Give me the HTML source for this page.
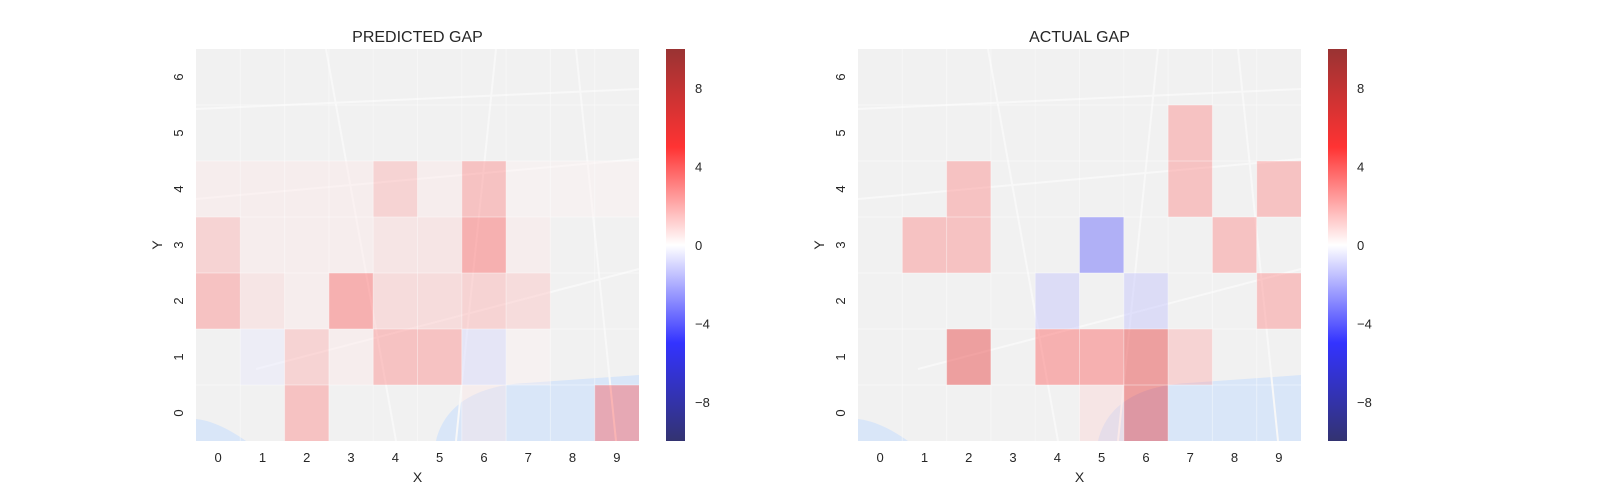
<!DOCTYPE html>
<html><head><meta charset="utf-8"><style>
html,body{margin:0;padding:0;background:#fff;overflow:hidden;width:1600px;height:500px;}
svg{display:block;}
svg text{font-family:"Liberation Sans",sans-serif;fill:#262626;}
</style></head><body>
<svg id="chart" width="1600" height="500" viewBox="0 0 1600 500" xmlns="http://www.w3.org/2000/svg">
<defs>
<linearGradient id="cbg" x1="0" y1="1" x2="0" y2="0">
<stop offset="0" stop-color="rgb(0,0,77)"/>
<stop offset="0.25" stop-color="rgb(0,0,255)"/>
<stop offset="0.5" stop-color="rgb(255,255,255)"/>
<stop offset="0.75" stop-color="rgb(255,0,0)"/>
<stop offset="1" stop-color="rgb(128,0,0)"/>
</linearGradient>
</defs>
</svg>
<script>
const xCats=[0,1,2,3,4,5,6,7,8,9];
const yCats=[0,1,2,3,4,5,6];
// rows indexed by Y (0 bottom .. 6 top), columns by X
const predicted=[
 [0,0,3,0,0,0,0.5,0,0,4],
 [0,-0.5,2,0.5,3,3,-1,0.3,0,0],
 [3,1,0.5,4,1.5,1.5,2,1.5,0,0],
 [2,0.5,0.5,0.5,1,1,4,0.5,0,0],
 [0.5,0.5,0.5,0.5,2,0.5,3,0.3,0.3,0.3],
 [0,0,0,0,0,0,0,0,0,0],
 [0,0,0,0,0,0,0,0,0,0]];
const actual=[
 [0,0,0,0,0,1,6,0,0,0],
 [0,0,6,0,4,4,6,2,0,0],
 [0,0,0,0,-1.5,0,-1.5,0,0,3],
 [0,3,3,0,0,-4,0,0,3,0],
 [0,0,3,0,0,0,0,3,0,3],
 [0,0,0,0,0,0,0,3,0,0],
 [0,0,0,0,0,0,0,0,0,0]];
const cbTicks=[-8,-4,0,4,8];
const vmin=-10,vmax=10;
const svg=document.getElementById('chart');
const NS='http://www.w3.org/2000/svg';
function mk(t,a){const e=document.createElementNS(NS,t);for(const k in a)e.setAttribute(k,a[k]);svg.appendChild(e);return e;}
function seismic(v){let t=(v-vmin)/(vmax-vmin);t=Math.max(0,Math.min(1,t));
 const st=[[0,0,0,77],[0.25,0,0,255],[0.5,255,255,255],[0.75,255,0,0],[1,128,0,0]];
 for(let i=0;i<4;i++){if(t<=st[i+1][0]){const f=(t-st[i][0])/(st[i+1][0]-st[i][0]);
 return 'rgb('+[1,2,3].map(j=>Math.round(st[i][j]+f*(st[i+1][j]-st[i][j]))).join(',')+')';}}
 return 'rgb(128,0,0)';}
function panel(px,title,data,cbx,name){
 const W=443,H=392,top=49;
 const cw=W/xCats.length,ch=H/yCats.length;
 const xs=i=>px+i*cw, ys=j=>top+H-(j+1)*ch;
 let r=mk('rect',{x:px,y:top,width:W,height:H,fill:'#f1f1f1'});
 
 
 let w=mk('path',{d:`M${px+240},${top+H} C${px+250},${top+350} ${px+290},${top+336} ${px+330},${top+334} L${px+W},${top+326} L${px+W},${top+H} Z`,fill:'#d9e6f8'});
 
 
 let w2=mk('path',{d:`M${px},${top+370} C${px+20},${top+372} ${px+40},${top+385} ${px+50},${top+H} L${px},${top+H} Z`,fill:'#d9e6f8'});
 
 
 const roads=[[0,150,443,110],[60,320,443,220],[130,0,200,392],[300,0,260,392],[0,60,443,40],[380,0,420,392]];
 roads.forEach(q=>{let l=mk('line',{x1:px+q[0],y1:top+q[1],x2:px+q[2],y2:top+q[3],stroke:'#f8f8f8','stroke-width':2});
  
  });
 for(let j=0;j<yCats.length;j++)for(let i=0;i<xCats.length;i++){
  const v=data[j][i]; if(v===0)continue;
  const c=mk('rect',{x:xs(i),y:ys(j),width:cw,height:ch,fill:seismic(v),'fill-opacity':0.34});
  
  
 }
 for(let i=1;i<xCats.length;i++){let l=mk('line',{x1:xs(i),y1:top,x2:xs(i),y2:top+H,stroke:'#fff','stroke-opacity':0.4,'stroke-width':1});
  
  }
 for(let j=1;j<yCats.length;j++){let l=mk('line',{x1:px,y1:top+j*ch,x2:px+W,y2:top+j*ch,stroke:'#fff','stroke-opacity':0.4,'stroke-width':1});
  
  }
 let t=mk('text',{x:px+W/2,y:42,'font-size':16,'text-anchor':'middle'});t.textContent=title;
 
 
 xCats.forEach((c,i)=>{let e=mk('text',{x:xs(i)+cw/2,y:462,'font-size':13,'text-anchor':'middle'});e.textContent=c;
  
  });
 yCats.forEach((c,j)=>{const cy=ys(j)+ch/2;let e=mk('text',{x:px-13,y:cy,'font-size':13,'text-anchor':'middle',transform:`rotate(-90 ${px-13} ${cy})`});e.textContent=c;
  
  });
 let xl=mk('text',{x:px+W/2,y:482,'font-size':14,'text-anchor':'middle'});xl.textContent='X';
 
 
 let yl=mk('text',{x:px-34,y:top+H/2,'font-size':14,'text-anchor':'middle',transform:`rotate(-90 ${px-34} ${top+H/2})`});yl.textContent='Y';
 
 
 let cb=mk('rect',{x:cbx,y:top,width:19,height:H,fill:'url(#cbg)','fill-opacity':0.8});
 
 
 const cy=v=>top+H-(v-vmin)/(vmax-vmin)*H;
 cbTicks.forEach(v=>{let e=mk('text',{x:cbx+29,y:cy(v)+5,'font-size':13});e.textContent=v<0?'\u2212'+(-v):v;
  
  });
}
panel(196,'PREDICTED GAP',predicted,666,'predicted');
panel(858,'ACTUAL GAP',actual,1328,'actual');
</script>
</body></html>
